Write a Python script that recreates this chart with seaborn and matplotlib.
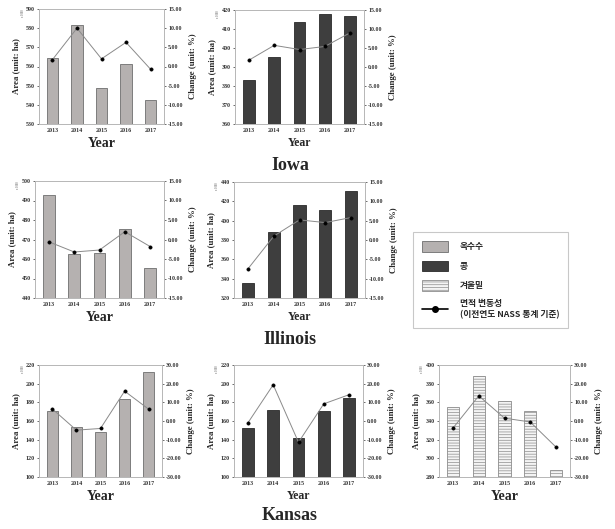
import matplotlib
matplotlib.use('Agg')
import matplotlib.pyplot as plt
import seaborn as sns
from matplotlib.patches import Patch
from matplotlib.lines import Line2D

# data
years = ['2013', '2014', '2015', '2016', '2017']

iowa_corn_area = [564.4, 581.5, 548.8, 561.5, 542.3]
iowa_corn_chg = [1.8, 10.0, 2.0, 6.3, -0.7]
iowa_soy_area = [383.3, 395.3, 413.5, 418.0, 416.7]
iowa_soy_chg = [1.8, 5.7, 4.6, 5.4, 9.0]

illinois_corn_area = [493.0, 462.4, 463.2, 475.5, 455.5]
illinois_corn_chg = [-0.6, -3.2, -2.7, 2.0, -1.8]
illinois_soy_area = [335.2, 388.0, 415.9, 411.4, 430.8]
illinois_soy_chg = [-7.4, 1.0, 5.2, 4.5, 5.8]

kansas_corn_area = [170.5, 154.0, 148.0, 184.0, 212.0]
kansas_corn_chg = [6.5, -4.9, -4.0, 16.0, 6.3]
kansas_soy_area = [153.0, 171.3, 142.0, 171.0, 185.0]
kansas_soy_chg = [-1.0, 19.4, -11.4, 9.2, 14.1]
kansas_wheat_area = [354.5, 388.5, 361.6, 350.2, 288.0]
kansas_wheat_chg = [-3.7, 13.5, 1.5, -0.5, -13.9]

legend_labels = ['옥수수', '콩', '겨울밀', '면적 변동성\n(이전연도 NASS 통계 기준)']
state_names = ['Iowa', 'Illinois', 'Kansas']

sns.set_style('white')
plt.rcParams['font.family'] = ['Liberation Serif', 'Noto Sans CJK KR']
plt.rcParams['font.weight'] = 'bold'
plt.rcParams['hatch.linewidth'] = 0.5

W, H = 615, 529
fig = plt.figure(figsize=(W / 100, H / 100), dpi=100)

crop_style = {
    'corn': dict(color='#b5b1b0', edgecolor='#6e6e6e', hatch=None),
    'soy': dict(color='#3e3e3e', edgecolor='#2a2a2a', hatch=None),
    'wheat': dict(color='#f4f4f4', edgecolor='#8c8c8c', hatch='------'),
}


def panel(px, area, chg, crop, ylim, ystep, clim, cstep, year_size=9):
    x0, y0, x1, y1 = px
    ax = fig.add_axes([x0 / W, 1 - y1 / H, (x1 - x0) / W, (y1 - y0) / H])
    st = crop_style[crop]
    sns.barplot(x=years, y=area, ax=ax, color=st['color'], width=0.47,
                edgecolor=st['edgecolor'], linewidth=0.6, saturation=1)
    if st['hatch']:
        for p in ax.patches:
            p.set_hatch(st['hatch'])
    ax.set_ylim(*ylim)
    ax.set_yticks(range(ylim[0], ylim[1] + 1, ystep))
    ax.set_xlim(-0.55, 4.55)

    ax2 = ax.twinx()
    sns.pointplot(x=years, y=chg, ax=ax2, color='#8a8a8a', markers='o',
                  linewidth=0.7, markersize=2.3, errorbar=None)
    for ln in ax2.lines:
        ln.set_markerfacecolor('black')
        ln.set_markeredgecolor('black')
    ax2.set_ylim(*clim)
    cticks = list(range(clim[0], clim[1] + 1, cstep))
    ax2.set_yticks(cticks)
    ax2.set_yticklabels([f'{v:.2f}' for v in cticks])
    ax2.set_xlim(-0.55, 4.55)

    for a in (ax, ax2):
        for s in a.spines.values():
            s.set_color('#b8b8b8')
            s.set_linewidth(0.7)
        a.tick_params(labelsize=4.3, length=1.5, width=0.5, colors='#333333', pad=1.5)
    ax.set_xlabel('Year', fontsize=year_size, fontweight='bold', labelpad=3)
    ax.set_ylabel('Area (unit: ha)', fontsize=6.3, fontweight='bold', labelpad=4)
    ax2.set_ylabel('Change (unit: %)', fontsize=6.3, fontweight='bold', labelpad=4)
    ax.text(-0.13, 1.0, 'x 1000', transform=ax.transAxes, fontsize=2,
            rotation=90, color='#888888', va='top', ha='center')
    return ax


panel((39, 9, 164, 124), iowa_corn_area, iowa_corn_chg, 'corn', (530, 590), 10, (-15, 15), 5, 10)
panel((235, 10, 364, 124), iowa_soy_area, iowa_soy_chg, 'soy', (360, 420), 10, (-15, 15), 5, 8.5)
panel((35, 181, 164, 298), illinois_corn_area, illinois_corn_chg, 'corn', (440, 500), 10, (-15, 15), 5, 10)
panel((234, 182, 365, 298), illinois_soy_area, illinois_soy_chg, 'soy', (320, 440), 20, (-15, 15), 5, 8.5)
panel((39, 365, 162, 477), kansas_corn_area, kansas_corn_chg, 'corn', (100, 220), 20, (-30, 30), 10, 10)
panel((234, 365, 363, 477), kansas_soy_area, kansas_soy_chg, 'soy', (100, 220), 20, (-30, 30), 10, 8.5)
panel((439, 365, 570, 477), kansas_wheat_area, kansas_wheat_chg, 'wheat', (280, 400), 20, (-30, 30), 10, 10)

# state titles
for name, yc in zip(state_names, [165, 340, 515]):
    fig.text(290 / W, 1 - yc / H, name, fontsize=13, fontweight='bold',
             ha='center', va='center')

# legend
handles = [
    Patch(facecolor=crop_style['corn']['color'], edgecolor='#6e6e6e', linewidth=0.6),
    Patch(facecolor=crop_style['soy']['color'], edgecolor='#2a2a2a', linewidth=0.6),
    Patch(facecolor=crop_style['wheat']['color'], edgecolor='#8c8c8c', hatch='------', linewidth=0.6),
    Line2D([0], [0], color='black', marker='o', markersize=4, linewidth=1.2),
]
leg = fig.legend(handles, legend_labels, loc='upper left',
                 bbox_to_anchor=(409 / W, 1 - 228 / H),
                 prop={'family': ['Noto Sans CJK KR'], 'weight': 'bold', 'size': 6.3},
                 frameon=True, fancybox=False, edgecolor='#bbbbbb',
                 handlelength=3.0, handleheight=1.5, labelspacing=1.0,
                 borderpad=1.0, handletextpad=1.3)
leg.get_frame().set_linewidth(0.8)

fig.savefig('out.png', dpi=100)
